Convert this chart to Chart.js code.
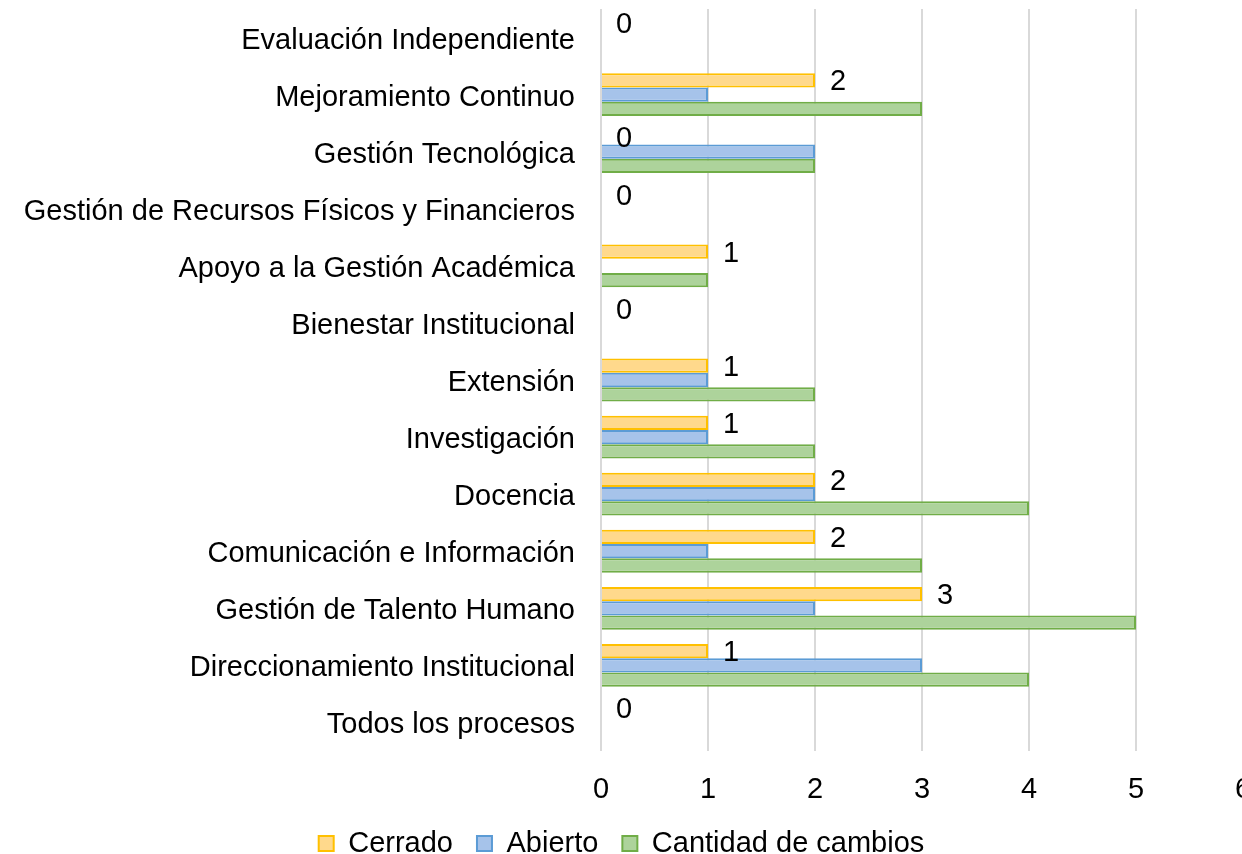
<!DOCTYPE html>
<html>
<head>
<meta charset="utf-8">
<script src="https://cdn.jsdelivr.net/npm/chart.js@4.4.1/dist/chart.umd.min.js"></script>
<style>
  html, body { margin: 0; padding: 0; background: #fff; overflow: hidden; }
  #wrap { width: 1260px; height: 868px; }
</style>
</head>
<body>
<div id="wrap"><canvas id="c" width="1260" height="868"></canvas></div>
<script>
const categories = [
  "Evaluación Independiente",
  "Mejoramiento Continuo",
  "Gestión Tecnológica",
  "Gestión de Recursos Físicos y Financieros",
  "Apoyo a la Gestión Académica",
  "Bienestar Institucional",
  "Extensión",
  "Investigación",
  "Docencia",
  "Comunicación e Información",
  "Gestión de Talento Humano",
  "Direccionamiento Institucional",
  "Todos los procesos"
];
const cerrado  = [0, 2, 0, 0, 1, 0, 1, 1, 2, 2, 3, 1, 0];
const abierto  = [0, 1, 2, 0, 0, 0, 1, 1, 2, 1, 2, 3, 0];
const cambios  = [0, 3, 2, 0, 1, 0, 2, 2, 4, 3, 5, 4, 0];
const xTicks   = [0, 1, 2, 3, 4, 5, 6];
const seriesNames = ["Cerrado", "Abierto", "Cantidad de cambios"];

const FONT = "'Liberation Sans', Arial, sans-serif";
const FS = 29;

const labelPlugin = {
  id: 'cerradoLabels',
  afterDatasetsDraw(chart) {
    const ctx = chart.ctx;
    const meta = chart.getDatasetMeta(0);
    ctx.save();
    ctx.font = FS + "px " + FONT;
    ctx.fillStyle = "#000";
    ctx.textAlign = "center";
    ctx.textBaseline = "middle";
    meta.data.forEach((el, i) => {
      ctx.fillText(String(cerrado[i]), el.x + 23, el.y + 2);
    });
    ctx.restore();
  }
};

new Chart(document.getElementById('c'), {
  type: 'bar',
  data: {
    labels: categories,
    datasets: [
      { label: seriesNames[0], data: cerrado, backgroundColor: "#FFD98C", borderColor: "#FFC000", borderWidth: 2 },
      { label: seriesNames[1], data: abierto, backgroundColor: "#A6C3EA", borderColor: "#5B9BD5", borderWidth: 2 },
      { label: seriesNames[2], data: cambios, backgroundColor: "#ADD39B", borderColor: "#70AD47", borderWidth: 2 }
    ]
  },
  options: {
    indexAxis: 'y',
    responsive: false,
    animation: false,
    devicePixelRatio: 1,
    layout: { padding: { top: 9, right: 17, left: 0, bottom: 0 } },
    datasets: { bar: { categoryPercentage: 0.75, barPercentage: 1.0 } },
    scales: {
      x: {
        min: 0, max: 6,
        afterBuildTicks(scale) { scale.ticks = xTicks.map(v => ({ value: v })); },
        afterFit(scale) { scale.paddingLeft = 0; scale.paddingRight = 0; scale.height = 54; },
        grid: { color: "#D9D9D9", lineWidth: 2, drawTicks: false },
        border: { display: false },
        ticks: { color: "#000", font: { family: FONT, size: FS }, padding: 22 }
      },
      y: {
        afterFit(scale) { scale.width = 601; scale.paddingTop = 0; scale.paddingBottom = 0; },
        grid: { display: false, drawTicks: false },
        border: { display: false },
        ticks: { color: "#000", font: { family: FONT, size: FS }, padding: 26, autoSkip: false, labelOffset: 3 }
      }
    },
    plugins: {
      legend: {
        position: 'bottom',
        labels: { color: "#000", font: { family: FONT, size: FS }, boxWidth: 15, boxHeight: 15, padding: 24 }
      },
      tooltip: { enabled: false }
    }
  },
  plugins: [labelPlugin]
});
</script>
</body>
</html>
